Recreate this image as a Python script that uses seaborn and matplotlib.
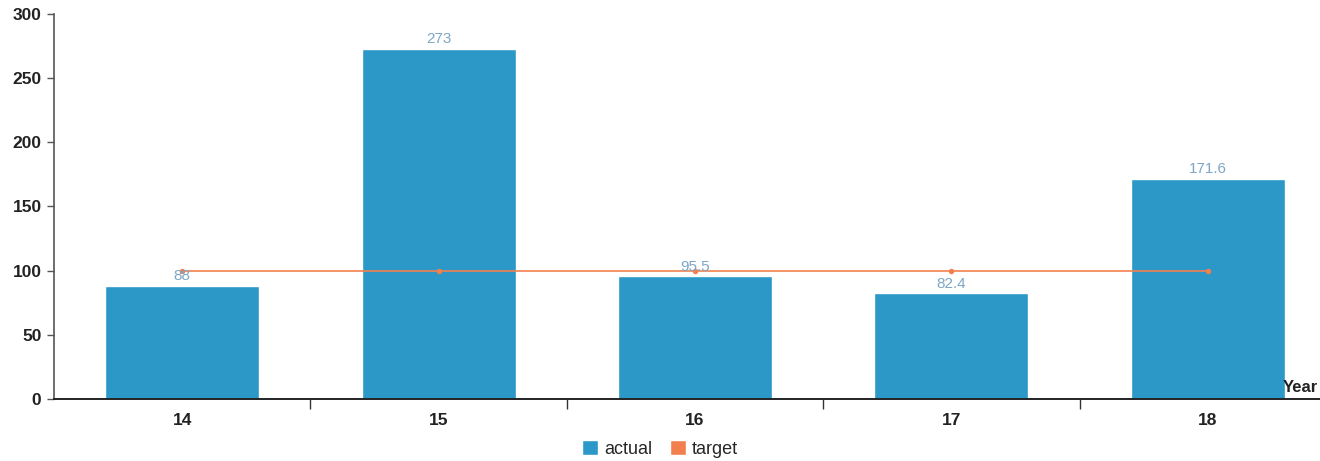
import matplotlib
matplotlib.use("Agg")
import matplotlib.pyplot as plt
import seaborn as sns
import pandas as pd
from matplotlib.patches import Patch

years = ["14", "15", "16", "17", "18"]
actual = [88, 273, 95.5, 82.4, 171.6]
target = [100, 100, 100, 100, 100]
value_labels = ["88", "273", "95.5", "82.4", "171.6"]

bar_color = "#2B98C8"
line_color = "#F2804F"

sns.set_theme(style="white")
plt.rcParams["font.family"] = ["Liberation Sans", "DejaVu Sans"]

df = pd.DataFrame({"Year": years, "actual": actual, "target": target})

fig = plt.figure(figsize=(13.2, 4.61), dpi=100)
ax = fig.add_axes([54 / 1320, 62 / 461, 1282 / 1320, 385 / 461])

sns.barplot(data=df, x="Year", y="actual", color=bar_color, width=0.6,
            saturation=1, ax=ax, zorder=2)
sns.pointplot(data=df, x="Year", y="target", color=line_color, ax=ax,
              markers="o", markersize=3, linewidth=1.2, zorder=3)

for i, (v, lab) in enumerate(zip(actual, value_labels)):
    ax.text(i, v + 2, lab, ha="center", va="bottom", fontsize=11,
            color="#7EA6C4", zorder=4)

ax.set_xlim(-0.5, 4.5)
ax.set_ylim(0, 300)
ax.set_yticks([0, 50, 100, 150, 200, 250, 300])
ax.set_xticks(range(len(years)))
ax.set_xticklabels(years)
ax.set_xlabel("")
ax.set_ylabel("")

# ticks between categories on the x axis
ax.set_xticks([0.5, 1.5, 2.5, 3.5], minor=True)
ax.tick_params(axis="x", which="major", bottom=False, length=0, pad=10,
               labelsize=12.5, labelcolor="#222222")
ax.tick_params(axis="x", which="minor", bottom=True, length=7, width=1,
               color="#333333", direction="out")
ax.tick_params(axis="y", left=True, length=5, width=1, color="#555555",
               direction="out", labelsize=12.5, labelcolor="#222222", pad=4)
for lbl in ax.get_xticklabels() + ax.get_yticklabels():
    lbl.set_fontweight("bold")

for side in ["top", "right"]:
    ax.spines[side].set_visible(False)
ax.spines["left"].set_color("#555555")
ax.spines["left"].set_linewidth(1.2)
ax.spines["bottom"].set_color("#222222")
ax.spines["bottom"].set_linewidth(1.4)

ax.text(1318 / 1320, 66 / 461, "Year", transform=fig.transFigure,
        fontsize=12, fontweight="bold", color="#222222", ha="right",
        va="bottom")

handles = [Patch(facecolor=bar_color, label="actual"),
           Patch(facecolor=line_color, label="target")]
fig.legend(handles=handles, loc="center", bbox_to_anchor=(0.5, 12 / 461),
           ncol=2, frameon=False, fontsize=13, handlelength=0.9,
           handleheight=0.9, handletextpad=0.3, columnspacing=1.0)

fig.savefig("out.png", dpi=100)
